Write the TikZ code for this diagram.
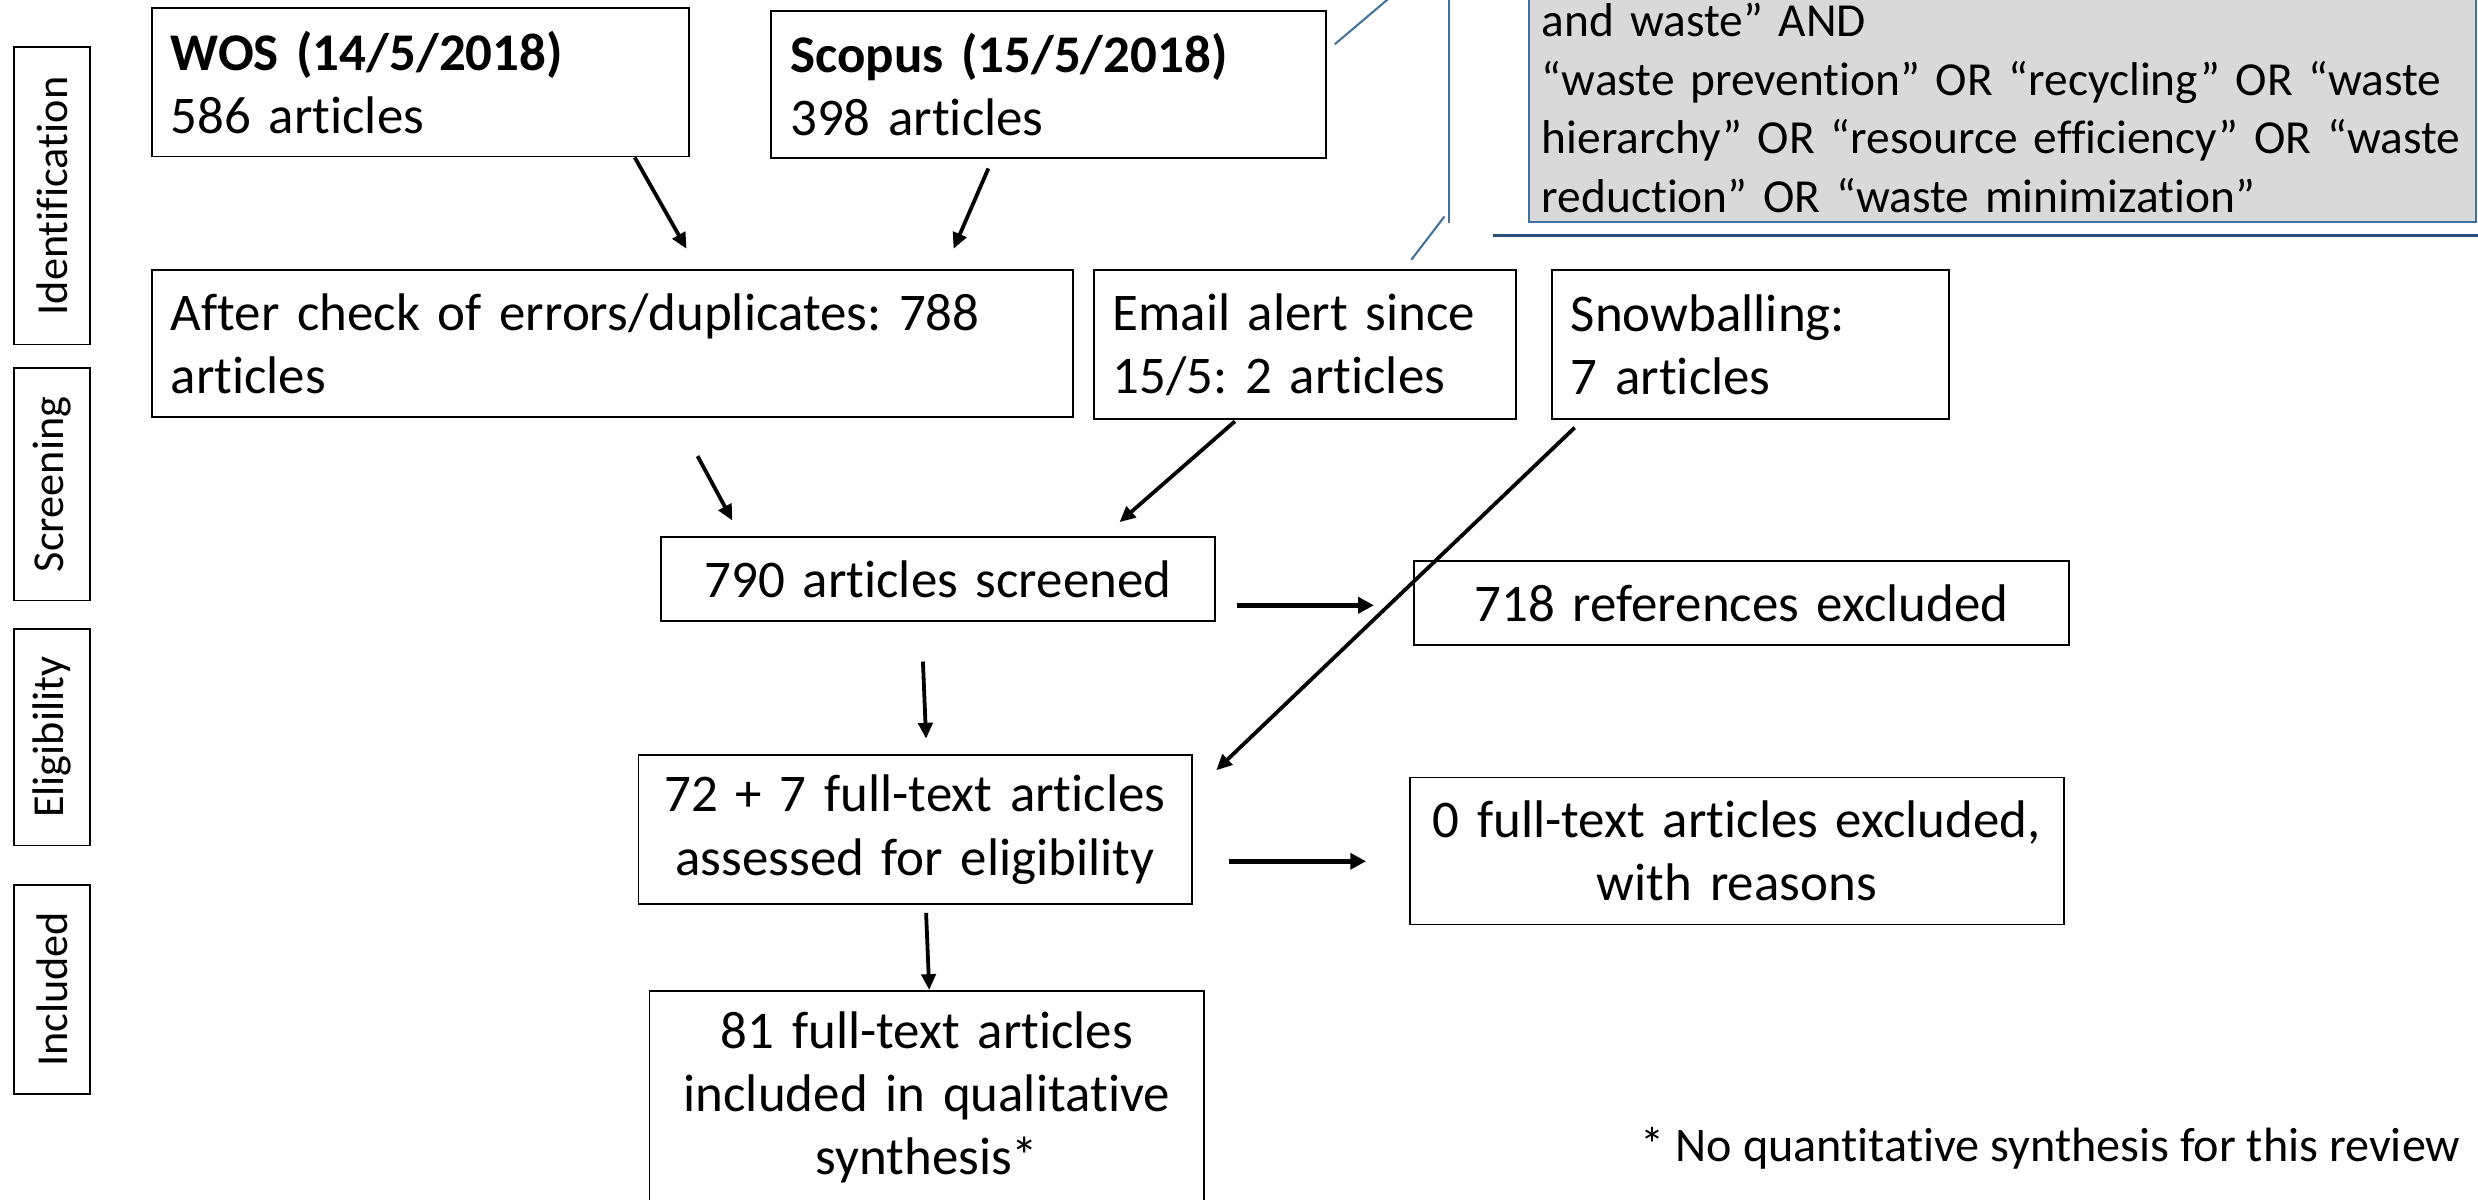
\documentclass[tikz,border=0pt]{standalone}
\usepackage{fontspec}
\setmainfont{Carlito}[Ligatures=NoCommon]
\usetikzlibrary{arrows.meta,calc}
\definecolor{cblue}{RGB}{65,113,156}
\definecolor{cblued}{RGB}{40,80,125}
\definecolor{cgray}{RGB}{217,217,217}
\frenchspacing
\begin{document}
\begin{tikzpicture}[x=1pt,y=-1pt,
  box/.style={draw=black, line width=1.2pt, fill=white, inner sep=0pt,
    font=\fontsize{33.5}{40}\selectfont},
  lbox/.style={box, align=left},
  cbox/.style={box, align=center},
  side/.style={draw=black, line width=1.2pt, rotate=90, inner sep=0pt,
    minimum height=48pt, font=\fontsize{28}{34}\selectfont},
  callout/.style={draw=cblue, fill=cgray, line width=1.2pt, inner xsep=8pt,
    inner ysep=6pt, text width=583pt, align=left,
    font=\fontsize{30}{37}\selectfont},
  arr/.style={line width=2.4pt, -{Triangle[length=10pt,width=9pt]}},
  thickarr/.style={line width=3pt, -{Triangle[length=10pt,width=10pt]}},
  bline/.style={draw=cblue, line width=1.3pt}
]
\useasboundingbox (0,0) rectangle (1568,759);
\clip (0,0) rectangle (1568,759);

% side labels
\node[side, minimum width=188pt] (sid) at (33,124) {Identification};
\node[side, minimum width=147pt] (sscr) at (33,306.5) {Screening};
\node[side, minimum width=137pt] (selg) at (33,466.5) {Eligibility};
\node[side, minimum width=132pt] (sinc) at (33,626) {Included};

% boxes
\node[lbox, minimum width=340pt, minimum height=94pt, text width=316pt] (wos) at (266,52)
  {\textbf{WOS (14/5/2018)}\\586 articles};
\node[lbox, minimum width=351pt, minimum height=93pt, text width=327pt] (scopus) at (663.5,53.5)
  {\textbf{Scopus (15/5/2018)}\\398 articles};
\node[lbox, minimum width=583pt, minimum height=93pt, text width=559pt] (after) at (387.5,217.5)
  {After check of errors/duplicates: 788\\articles};
\node[lbox, minimum width=267pt, minimum height=94pt, text width=243pt] (email) at (825.5,218)
  {Email alert since\\15/5: 2 articles};
\node[lbox, minimum width=251pt, minimum height=94pt, text width=227pt] (snow) at (1107.5,218)
  {Snowballing:\\7 articles};
\node[cbox, minimum width=351pt, minimum height=53pt, text width=340pt] (scr) at (593.5,366.5)
  {790 articles screened};
\node[cbox, minimum width=414pt, minimum height=53pt, text width=400pt] (exc1) at (1102,381.5)
  {718 references excluded};
\node[cbox, minimum width=350pt, minimum height=94pt, text width=340pt] (full) at (579,525)
  {72 + 7 full-text articles\\assessed for eligibility};
\node[cbox, minimum width=414pt, minimum height=93pt, text width=400pt] (exc2) at (1099,538.5)
  {0 full-text articles excluded,\\with reasons};
\node[cbox, minimum width=351pt, minimum height=135pt, text width=340pt] (incl) at (586.5,694.5)
  {81 full-text articles\\included in qualitative\\synthesis*};

% callout
\node[callout, anchor=south west] (query) at (967,141)
  {\rule{0pt}{80pt}and waste” AND\\
   “waste prevention” OR “recycling” OR “waste\\
   hierarchy” OR “resource efficiency” OR “waste\\
   reduction” OR “waste minimization”};

\node[anchor=base east, font=\fontsize{30.5}{36}\selectfont, inner sep=0pt] (note) at (1557,735)
  {* No quantitative synthesis for this review};

% blue callout lines
\coordinate (b1) at (880,-2);
\coordinate (vtop) at (917,-2);
\coordinate (vbot) at (917,141);
\coordinate (b2) at (914,137);
\coordinate (hl) at (945,149);
\coordinate (hr) at (1570,149);
\draw[bline] ($(scopus.east)+(5,-25.5)$) -- (b1);
\draw[bline] (vtop) -- (vbot);
\draw[bline] ($(email.north)+(67.5,-6)$) -- (b2);
\draw[draw=cblued, line width=1.5pt] (hl) -- (hr);

% arrows
\draw[arr] ($(wos.south east)+(-35,0)$) -- ($(after.north west)+(339,-13)$);
\draw[arr] ($(scopus.south west)+(138,6)$) -- ($(after.north west)+(508,-13)$);
\draw[arr] ($(after.south west)+(346,24)$) -- ($(scr.north west)+(46,-10)$);
\draw[arr] ($(email.south west)+(90,1)$) -- ($(scr.north west)+(291,-9)$);
\draw[arr] ($(snow.south west)+(15,5)$) -- ($(full.north east)+(15,10)$);
\draw[thickarr] ($(scr.east)+(13,16.5)$) -- ($(exc1.west)+(-25,1.5)$);
\draw[arr] ($(scr.south)+(-9.5,25)$) -- ($(full.north)+(7,-10)$);
\draw[thickarr] ($(full.east)+(23,20)$) -- ($(exc2.west)+(-27,6.5)$);
\draw[arr] ($(full.south)+(7,5)$) -- ($(incl.north)+(1.5,0)$);
\end{tikzpicture}
\end{document}
